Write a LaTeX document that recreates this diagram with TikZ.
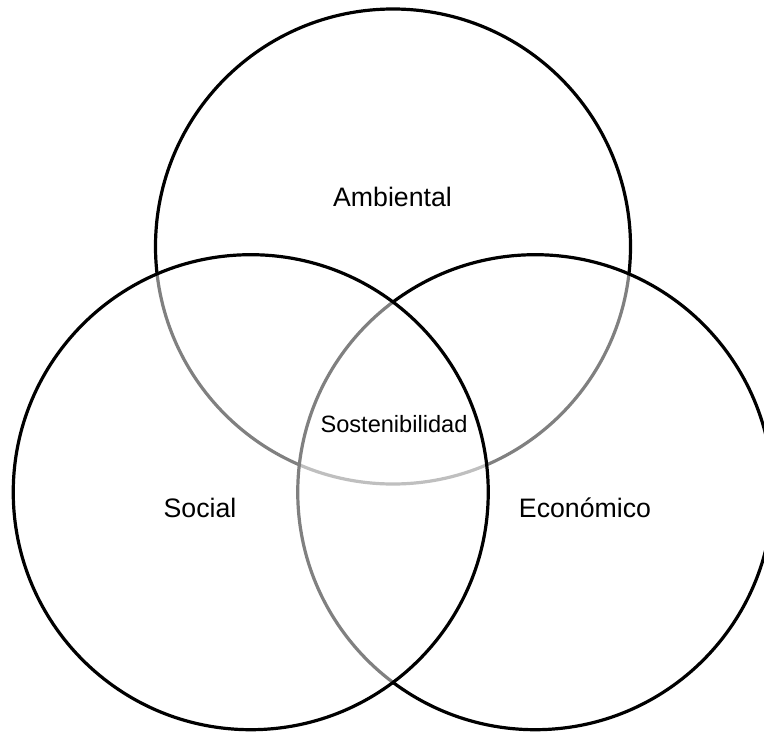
\documentclass[tikz,border=0pt]{standalone}
\usepackage{fontspec}
\setmainfont{Liberation Sans}
\begin{document}
\begin{tikzpicture}[x=1pt,y=-1pt,
  ring/.style={circle, draw=black, draw opacity=1, line width=3.2pt,
    fill=white, fill opacity=0.5, minimum size=475pt, inner sep=0pt},
  bigtext/.style={font=\fontsize{26.7}{32}\selectfont, anchor=base, inner sep=0pt},
  midtext/.style={font=\fontsize{23.6}{28}\selectfont, anchor=base, inner sep=0pt}]
\clip (0,0) rectangle (764,734);
\fill[white] (0,0) rectangle (764,734);
% the three sets, each one veiling the outlines drawn before it
\node[ring] (amb) at (393,246.5) {};
\node[ring] (eco) at (535.25,492.2) {};
\node[ring] (soc) at (250.75,492.2) {};
% set names
\node[bigtext] (tamb) at (392.5,206.7) {Ambiental};
\node[midtext] (tsos) at (394,432.7) {Sostenibilidad};
\node[bigtext] (tsoc) at (200,517) {Social};
\node[bigtext] (teco) at (585,517) {Económico};
\end{tikzpicture}
\end{document}
